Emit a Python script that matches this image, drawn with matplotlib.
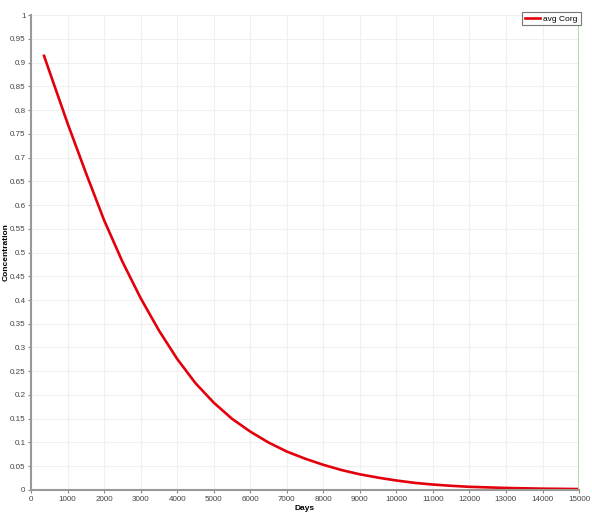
import matplotlib.pyplot as plt
import numpy as np

plt.rcParams['font.family'] = ['Liberation Sans', 'DejaVu Sans']

# values
days = [356, 1000, 1500, 2000, 2500, 3000, 3500, 4000, 4500, 5000, 5500, 6000,
        6500, 7000, 7500, 8000, 8500, 9000, 9500, 10000, 10500, 11000, 11500,
        12000, 13000, 14000, 15000]
avg_corg = [0.914, 0.772, 0.668, 0.568, 0.481, 0.404, 0.336, 0.276, 0.225, 0.184,
            0.150, 0.123, 0.100, 0.081, 0.066, 0.053, 0.042, 0.033, 0.026, 0.020,
            0.015, 0.0115, 0.0088, 0.0067, 0.0043, 0.0028, 0.0020]

xticks = np.arange(0, 15001, 1000)
yticks = np.round(np.arange(0, 1.0001, 0.05), 2)

fig = plt.figure(figsize=(5.92, 5.14), dpi=100)
ax = fig.add_axes([0.0524, 0.0467, 0.9257, 0.9241])

ax.plot(days, avg_corg, color='#e3000b', linewidth=1.9, label='avg Corg')
ax.axvline(15000, color='#a8dc92', linewidth=2)

ax.set_xlim(0, 15000)
ax.set_ylim(0, 1)
ax.set_xticks(xticks)
ax.set_yticks(yticks)
ax.set_xticklabels([str(t) for t in xticks])
ax.set_yticklabels([('%g' % t) for t in yticks])
ax.tick_params(labelsize=5.8, length=2.5, color='#888888', labelcolor='#444444', pad=1.5)

ax.grid(True, color='#f0f0f0', linewidth=0.8)
ax.set_axisbelow(True)
for s in ['top', 'right']:
    ax.spines[s].set_visible(False)
for s in ['left', 'bottom']:
    ax.spines[s].set_color('#999999')
    ax.spines[s].set_linewidth(1.5)

ax.set_xlabel('Days', fontsize=6, fontweight='bold')
ax.set_ylabel('Concentration', fontsize=6, fontweight='bold')
ax.xaxis.set_label_coords(0.5, -0.032)
ax.yaxis.set_label_coords(-0.039, 0.5)

leg = ax.legend(loc='upper right', bbox_to_anchor=(0.981, 0.977),
                bbox_transform=fig.transFigure, fontsize=6, frameon=True,
                fancybox=False, edgecolor='#555555', handlelength=1.8,
                borderpad=0.35, handletextpad=0.4, borderaxespad=0)
leg.get_frame().set_linewidth(0.8)

fig.savefig('out.png', dpi=100)
